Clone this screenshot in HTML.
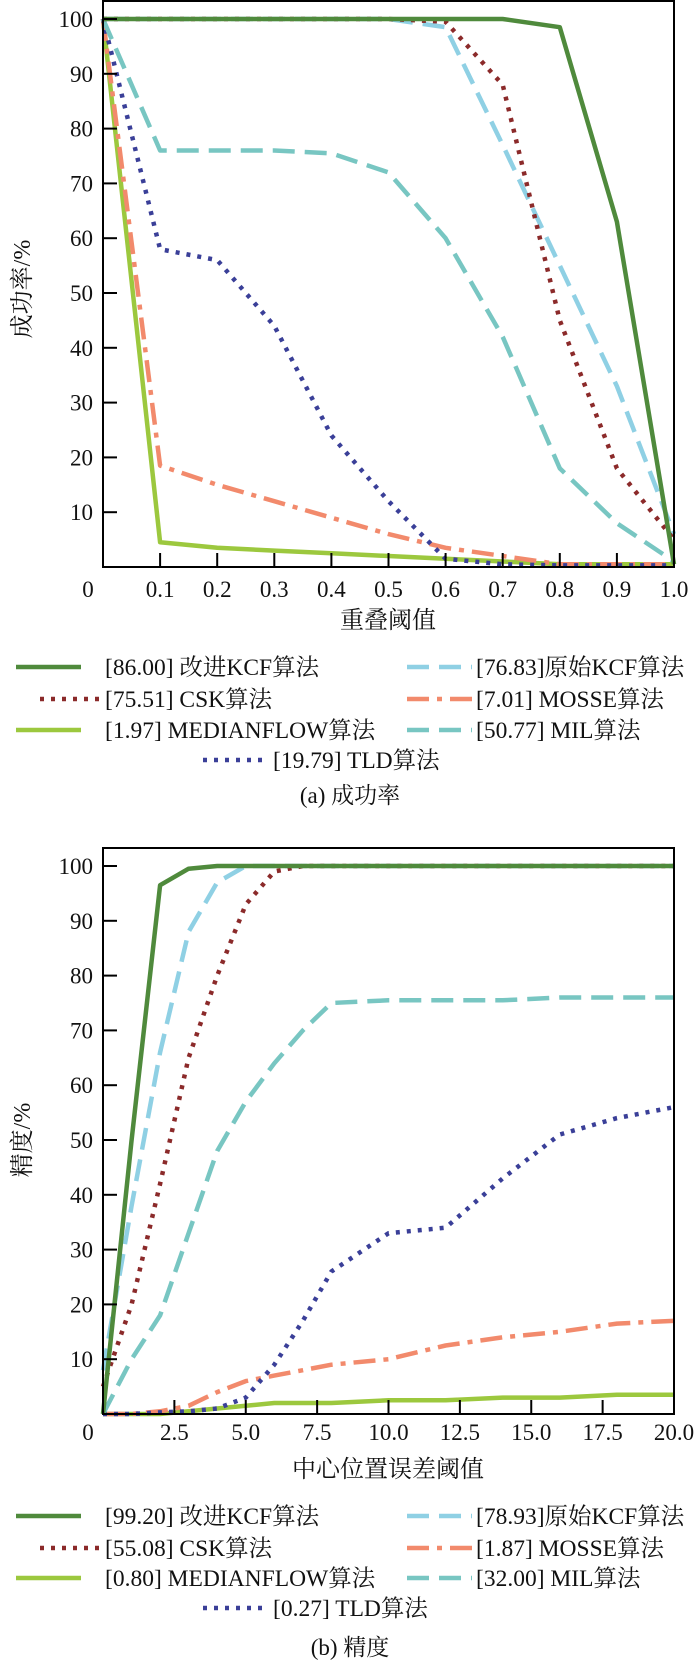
<!DOCTYPE html>
<html><head><meta charset="utf-8"><style>
body{margin:0;background:#fff;width:700px;height:1672px;overflow:hidden}
svg{display:block}
text{font-family:"Liberation Serif","Noto Serif CJK SC",serif;fill:#111}
</style></head><body>
<svg id="s" width="700" height="1672"></svg>
<script>
// chart 1 data
const x1 = [0,0.1,0.2,0.3,0.4,0.5,0.6,0.7,0.8,0.9,1.0];
const s1_kcf = [100,100,100,100,100,100,100,100,98.5,63,0.5];
const s1_okcf = [100,100,100,100,100,100,98.5,77,55,33,6];
const s1_csk = [100,100,100,100,100,100,99.5,88,45,18,5];
const s1_mosse = [100,18.5,15,12,9,6,3.5,2,0.5,0.5,0.5];
const s1_mf = [100,4.5,3.5,3,2.5,2,1.5,1,0.5,0.5,0.5];
const s1_mil = [100,76,76,76,75.5,72,60,42,18,8,1];
const s1_tld = [100,58,56,44,24,12,1.5,0.5,0.3,0.3,0.3];
const xt1 = ["0.1","0.2","0.3","0.4","0.5","0.6","0.7","0.8","0.9","1.0"];
const xv1 = [0.1,0.2,0.3,0.4,0.5,0.6,0.7,0.8,0.9,1.0];
const leg1 = ["[86.00] 改进KCF算法","[76.83]原始KCF算法","[75.51]  CSK算法","[7.01] MOSSE算法","[1.97] MEDIANFLOW算法","[50.77] MIL算法","[19.79] TLD算法"];
// chart 2 data
const x2 = [0,1,2,3,4,5,6,7,8,10,12,14,16,18,20];
const s2_kcf = [0,50,96.5,99.5,100,100,100,100,100,100,100,100,100,100,100];
const s2_okcf = [8,38,66,88,97,100,100,100,100,100,100,100,100,100,100];
const s2_csk = [5,20,42,65,80,93,99,100,100,100,100,100,100,100,100];
const s2_mil = [0,10,18,33,48,57,64,70,75,75.5,75.5,75.5,76,76,76];
const s2_tld = [0,0,0.3,0.5,1,3,9,17,26,33,34,43,51,54,56];
const s2_mosse = [0,0,0.5,1.5,4,6,7,8,9,10,12.5,14,15,16.5,17];
const s2_mf = [0,0,0,0.5,1,1.5,2,2,2,2.5,2.5,3,3,3.5,3.5];
const xt2 = ["2.5","5.0","7.5","10.0","12.5","15.0","17.5","20.0"];
const xv2 = [2.5,5,7.5,10,12.5,15,17.5,20];
const leg2 = ["[99.20] 改进KCF算法","[78.93]原始KCF算法","[55.08]  CSK算法","[1.87] MOSSE算法","[0.80] MEDIANFLOW算法","[32.00] MIL算法","[0.27] TLD算法"];
const yt = [10,20,30,40,50,60,70,80,90,100];

const ST = {
 kcf:{c:"#4f8a3c",d:""}, okcf:{c:"#8fd0e4",d:"22,10"}, csk:{c:"#8b2a2a",d:"4,7"},
 mosse:{c:"#f28a6c",d:"22,8,5,8"}, mf:{c:"#9cc83e",d:""}, mil:{c:"#78c6c2",d:"22,10"}, tld:{c:"#3a3f98",d:"4,7"}
};
const NS="http://www.w3.org/2000/svg";
const svg=document.getElementById('s');
function el(t,a,p){const e=document.createElementNS(NS,t);for(const k in a)e.setAttribute(k,a[k]);(p||svg).appendChild(e);return e;}

function chart(cfg){
 const L=103,R=674,T=cfg.top,B=cfg.bottom;
 const g=el('g',{});
 
 
 const sx=v=>L+(v-cfg.xmin)/(cfg.xmax-cfg.xmin)*(R-L);
 const sy=v=>B-v/cfg.ymaxUnit*(B-cfg.y100);
 const series=[["kcf",cfg.d.kcf],["okcf",cfg.d.okcf],["csk",cfg.d.csk],["mosse",cfg.d.mosse],["mf",cfg.d.mf],["mil",cfg.d.mil],["tld",cfg.d.tld]];
 const order=["mf","mosse","tld","mil","okcf","csk","kcf"];
 order.forEach(k=>{
  const vals=series.find(s=>s[0]===k)[1];
  const pts=cfg.x.map((xv,i)=>sx(xv).toFixed(1)+","+sy(vals[i]).toFixed(1)).join(" ");
  const pl=el('polyline',{points:pts,fill:"none",stroke:ST[k].c,"stroke-width":4.5,"stroke-dasharray":ST[k].d,"stroke-linejoin":"round"},g);
  
  
 });
 const fr=el('rect',{x:L,y:T,width:R-L,height:B-T,fill:"none",stroke:"#000","stroke-width":2},g);
 
 
 yt.forEach(v=>{
  el('line',{x1:L,x2:L+14,y1:sy(v),y2:sy(v),stroke:"#000","stroke-width":2},g);
  const t=el('text',{x:L-10,y:sy(v)+8,"text-anchor":"end","font-size":23},g);t.textContent=v;
  
  
 });
 cfg.xv.forEach((v,i)=>{
  el('line',{x1:sx(v),x2:sx(v),y1:B,y2:B-14,stroke:"#000","stroke-width":2},g);
  const t=el('text',{x:sx(v),y:B+cfg.xtOff,"text-anchor":"middle","font-size":23},g);t.textContent=cfg.xt[i];
  
  
 });
 const z=el('text',{x:88,y:B+cfg.xtOff,"text-anchor":"middle","font-size":23},g);z.textContent="0";
 const xl=el('text',{x:388,y:cfg.xlabY,"text-anchor":"middle","font-size":24},g);xl.textContent=cfg.xlab;
 
 
 const yl=el('text',{x:0,y:0,"text-anchor":"middle","font-size":24,transform:`translate(30,${cfg.ylabY}) rotate(-90)`},g);yl.textContent=cfg.ylab;
 
 
 const pos=[[16,105,0],[407,476,0],[84,105,1],[407,476,1],[16,105,2],[407,476,2],[203,273,3]];
 const keys=["kcf","okcf","csk","mosse","mf","mil","tld"];
 keys.forEach((k,i)=>{
  const y=cfg.legY[pos[i][2]];
  const lg=el('g',{},g);
  
  
  el('line',{x1:pos[i][0]===84?40:pos[i][0],x2:pos[i][0]===84?101:pos[i][0]+65,y1:y-8,y2:y-8,stroke:ST[k].c,"stroke-width":4.5,"stroke-dasharray":ST[k].d},lg);
  const t=el('text',{x:pos[i][1],y:y,"font-size":23.5},lg);t.textContent=cfg.leg[i];
 });
 const cap=el('text',{x:350,y:cfg.capY,"text-anchor":"middle","font-size":23},g);cap.textContent=cfg.cap;
 
 
}
chart({name:"success-rate-chart",top:1,bottom:567,y100:19,ymaxUnit:100,xmin:0,xmax:1,x:x1,
 d:{kcf:s1_kcf,okcf:s1_okcf,csk:s1_csk,mosse:s1_mosse,mf:s1_mf,mil:s1_mil,tld:s1_tld},
 xtOff:30,xt:xt1,xv:xv1,xlab:"重叠阈值",xlabY:628,ylab:"成功率/%",ylabY:289,leg:leg1,legY:[675,707,738,768],cap:"(a) 成功率",capY:803});
chart({name:"precision-chart",top:848,bottom:1414,y100:866,ymaxUnit:100,xmin:0,xmax:20,x:x2,
 d:{kcf:s2_kcf,okcf:s2_okcf,csk:s2_csk,mosse:s2_mosse,mf:s2_mf,mil:s2_mil,tld:s2_tld},
 xtOff:26,xt:xt2,xv:xv2,xlab:"中心位置误差阈值",xlabY:1477,ylab:"精度/%",ylabY:1140,leg:leg2,legY:[1524,1556,1586,1616],cap:"(b) 精度",capY:1655});
</script>
</body></html>
